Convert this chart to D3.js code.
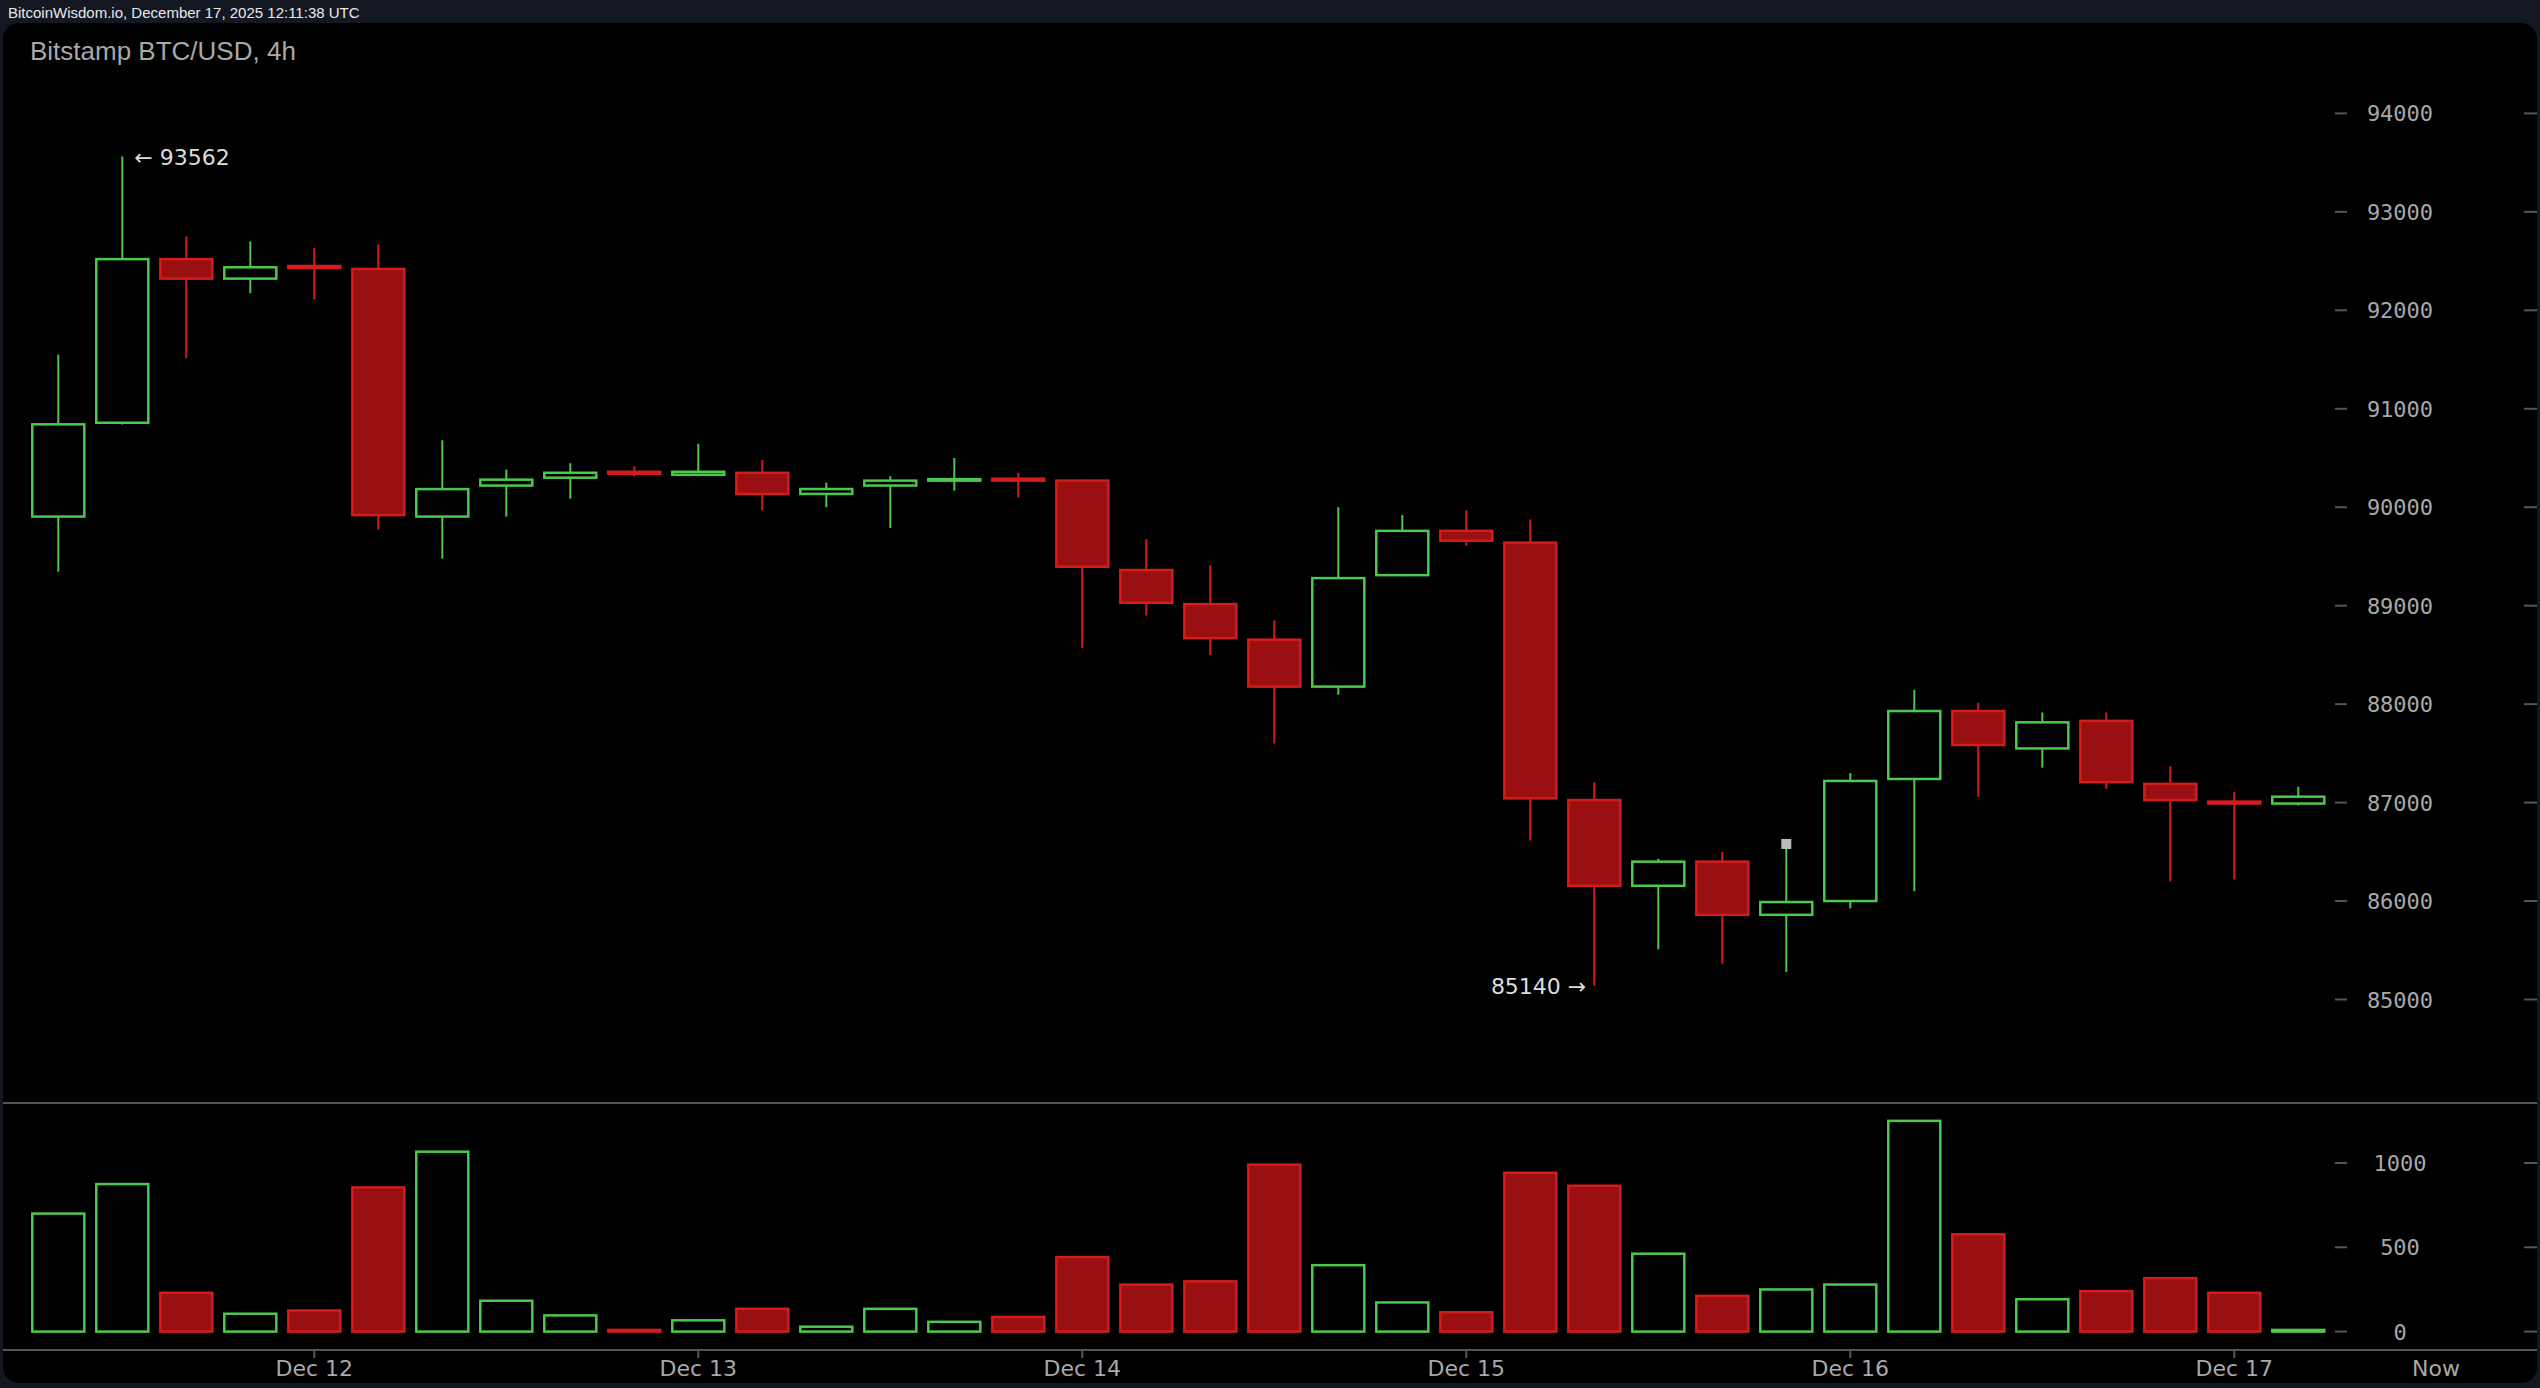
<!DOCTYPE html>
<html>
<head>
<meta charset="utf-8">
<script src="https://cdn.jsdelivr.net/npm/d3@7"></script>
<style>
  html, body { margin: 0; padding: 0; background: #131722; overflow: hidden; }
</style>
</head>
<body>
<script>
// 4h candles, Dec 11 16:00 .. Dec 17 12:00
var opens  = [89905, 90858, 92520, 92322, 92450, 92420, 89905, 90220, 90300, 90360, 90330, 90350,
              90135, 90220, 90270, 90290, 90270, 89362, 89016, 88655, 88178, 89310, 89760, 89640,
              87026, 86155, 86400, 85860, 86000, 87240, 87930, 87550, 87830, 87190, 87010, 86990];
var closes = [90842, 92520, 92322, 92437, 92430, 89920, 90184, 90280, 90350, 90340, 90360, 90135,
              90185, 90270, 90285, 90270, 89395, 89030, 88670, 88178, 89280, 89760, 89660, 87043,
              86155, 86400, 85860, 85990, 87220, 87930, 87585, 87815, 87207, 87026, 86990, 87060];
var highs  = [91549, 93562, 92750, 92700, 92635, 92668, 90680, 90382, 90447, 90415, 90645, 90480,
              90250, 90316, 90500, 90350, 90283, 89675, 89410, 88850, 90000, 89920, 89970, 89875,
              87207, 86430, 86500, 86580, 87300, 88145, 88013, 87915, 87915, 87370, 87110, 87160];
var lows   = [89345, 90840, 91516, 92174, 92110, 89773, 89477, 89905, 90086, 90316, 90332, 89970,
              90000, 89790, 90168, 90100, 88570, 88900, 88500, 87600, 88095, 89300, 89610, 86615,
              85140, 85510, 85365, 85280, 85925, 86100, 87060, 87355, 87140, 86200, 86220, 86970];
var volumes = [700, 875, 230, 106, 125, 855, 1067, 183, 96, 10, 67, 135,
               29, 135, 58, 87, 442, 279, 298, 990, 394, 173, 115, 942,
               865, 462, 212, 250, 279, 1250, 577, 192, 240, 317, 230, 10];
var dayLabels = ["Dec 12", "Dec 13", "Dec 14", "Dec 15", "Dec 16", "Dec 17"];
var dayIndex  = [4, 10, 16, 22, 28, 34];
var priceTicks = [85000, 86000, 87000, 88000, 89000, 90000, 91000, 92000, 93000, 94000];
var volTicks = [0, 500, 1000];

var W = 2540, H = 1388;
var green = "#4cc94c", redFill = "#9a0f12", redStroke = "#d41c1c", grey = "#a8a8a8";

var svg = d3.select("body").append("svg").attr("width", W).attr("height", H);

svg.append("text").attr("x", 8).attr("y", 18)
   .attr("font-family", "Liberation Sans Narrow, Liberation Sans, sans-serif")
   .attr("font-size", 15).attr("fill", "#e8e8e8")
   .text("BitcoinWisdom.io, December 17, 2025 12:11:38 UTC");

// panel
svg.append("rect").attr("x", 3).attr("y", 23).attr("width", W - 6).attr("height", 1360)
   .attr("rx", 16).attr("fill", "#000");

svg.append("text").attr("x", 30).attr("y", 60)
   .attr("font-family", "Liberation Sans, sans-serif").attr("font-size", 26).attr("fill", grey)
   .text("Bitstamp BTC/USD, 4h");

var x = d3.scaleLinear().domain([0, 1]).range([58.3, 122.3]);
var y = d3.scaleLinear().domain([85000, 94000]).range([999.5, 113.4]);
var yv = d3.scaleLinear().domain([0, 1000]).range([1331.6, 1163]);
var bw = 52;

var idx = d3.range(opens.length);

// separators
svg.append("line").attr("x1", 3).attr("x2", W - 3).attr("y1", 1103).attr("y2", 1103)
   .attr("stroke", "#555").attr("stroke-width", 2);
svg.append("line").attr("x1", 3).attr("x2", W - 3).attr("y1", 1350).attr("y2", 1350)
   .attr("stroke", "#555").attr("stroke-width", 2);

// right axes
var axisX = 2400;
function drawTicks(ticks, scale, fmt) {
  var g = svg.append("g");
  ticks.forEach(function(t) {
    var yy = scale(t);
    g.append("line").attr("x1", 2335).attr("x2", 2347).attr("y1", yy).attr("y2", yy).attr("stroke", "#555").attr("stroke-width", 2);
    g.append("line").attr("x1", 2524).attr("x2", 2537).attr("y1", yy).attr("y2", yy).attr("stroke", "#555").attr("stroke-width", 2);
    g.append("text").attr("x", axisX).attr("y", yy + 8).attr("text-anchor", "middle")
     .attr("font-family", "DejaVu Sans Mono, monospace").attr("font-size", 22).attr("fill", grey)
     .text(fmt(t));
  });
}
drawTicks(priceTicks, y, String);
drawTicks(volTicks, yv, String);

// wicks
svg.selectAll(".wick").data(idx).enter().append("line")
   .attr("x1", function(i) { return x(i); }).attr("x2", function(i) { return x(i); })
   .attr("y1", function(i) { return y(highs[i]); }).attr("y2", function(i) { return y(lows[i]); })
   .attr("stroke", function(i) { return closes[i] >= opens[i] ? green : redStroke; })
   .attr("stroke-width", 2);

// bodies
svg.selectAll(".body").data(idx).enter().append("rect")
   .attr("x", function(i) { return x(i) - bw / 2; })
   .attr("width", bw)
   .attr("y", function(i) { return y(Math.max(opens[i], closes[i])); })
   .attr("height", function(i) { return Math.max(1, Math.abs(y(opens[i]) - y(closes[i]))); })
   .attr("fill", function(i) { return closes[i] >= opens[i] ? "#000" : redFill; })
   .attr("stroke", function(i) { return closes[i] >= opens[i] ? green : redStroke; })
   .attr("stroke-width", 2.5);

// volume bars
svg.selectAll(".vol").data(idx).enter().append("rect")
   .attr("x", function(i) { return x(i) - bw / 2; })
   .attr("width", bw)
   .attr("y", function(i) { return yv(volumes[i]); })
   .attr("height", function(i) { return Math.max(1, yv(0) - yv(volumes[i])); })
   .attr("fill", function(i) { return closes[i] >= opens[i] ? "#000" : redFill; })
   .attr("stroke", function(i) { return closes[i] >= opens[i] ? green : redStroke; })
   .attr("stroke-width", 2.5);

// high / low labels
var hi = d3.maxIndex(highs), lo = d3.minIndex(lows);
svg.append("text").attr("x", x(hi) + 12).attr("y", y(highs[hi]) + 8)
   .attr("font-family", "DejaVu Sans, sans-serif").attr("font-size", 22).attr("fill", "#ddd")
   .text("\u2190 " + highs[hi]);
svg.append("text").attr("x", x(lo) - 8).attr("y", y(lows[lo]) + 8).attr("text-anchor", "end")
   .attr("font-family", "DejaVu Sans, sans-serif").attr("font-size", 22).attr("fill", "#ddd")
   .text(lows[lo] + " \u2192");
// marker
svg.append("rect").attr("x", x(27) - 5).attr("y", y(highs[27]) - 5).attr("width", 10).attr("height", 10)
   .attr("fill", "#bbb");

// date axis
dayIndex.forEach(function(d, k) {
  svg.append("line").attr("x1", x(d)).attr("x2", x(d)).attr("y1", 1350).attr("y2", 1358)
     .attr("stroke", "#555").attr("stroke-width", 2);
  svg.append("text").attr("x", x(d)).attr("y", 1376).attr("text-anchor", "middle")
     .attr("font-family", "DejaVu Sans, sans-serif").attr("font-size", 22).attr("fill", grey)
     .text(dayLabels[k]);
});
svg.append("text").attr("x", axisX + 36).attr("y", 1376).attr("text-anchor", "middle")
   .attr("font-family", "DejaVu Sans, sans-serif").attr("font-size", 22).attr("fill", grey)
   .text("Now");
</script>
</body>
</html>
